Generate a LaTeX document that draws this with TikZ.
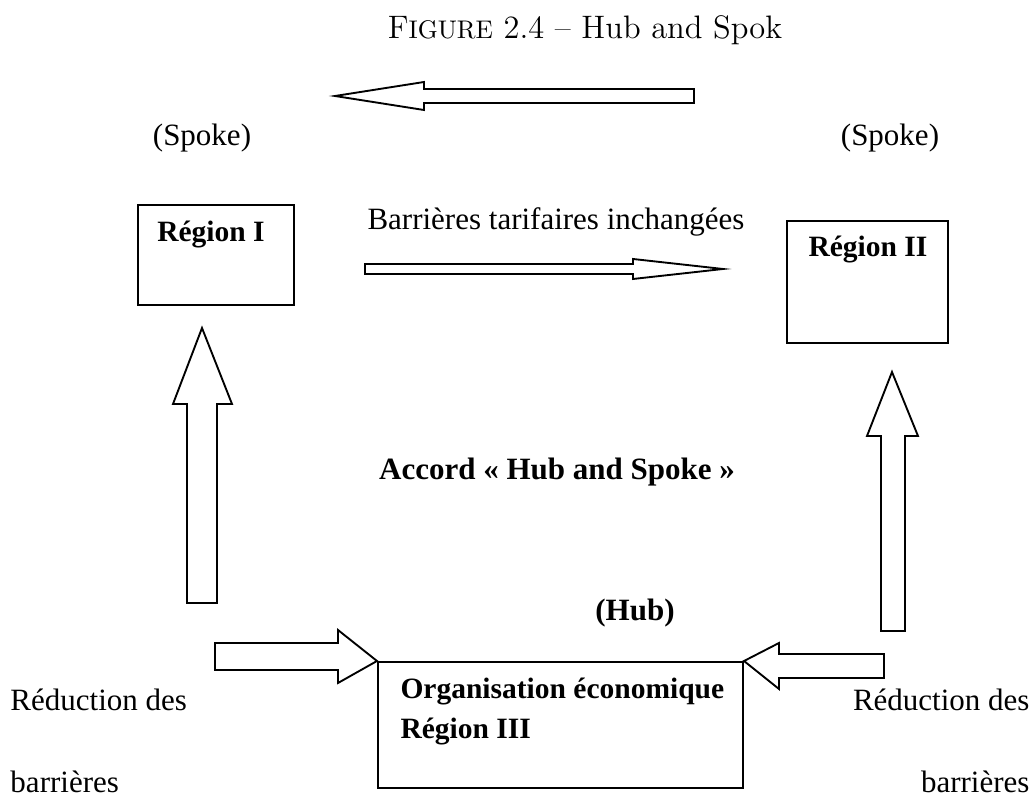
\documentclass[tikz,border=0pt]{standalone}
\usepackage{fontspec}
\setmainfont{Liberation Serif}
\newfontfamily\lmfont{Latin Modern Roman}
\usetikzlibrary{positioning}
\tikzset
{
    regionbox/.style = {rectangle, draw=black, line width=0.8pt, inner sep=0pt},
    blockarrow/.style = {draw=black, line width=0.75pt, fill=white, line join=miter},
    plaintext/.style = {inner sep=0pt, font=\fontsize{12.4}{15}\selectfont},
    boldtext/.style = {inner sep=0pt, font=\fontsize{11.8}{14}\selectfont\bfseries}
}
\newcommand\fakesc[1]{{\fontsize{10.2}{12}\selectfont #1}}

\begin{document}
\begin{tikzpicture}[x=0.4pt, y=-0.4pt]
\useasboundingbox (0,0) rectangle (1035,805);
\node [inner sep=0pt, font=\lmfont\fontsize{13}{16}\selectfont] at (585,30) (caption) {F\fakesc{IGURE} 2.4 – Hub and Spok};
% boxes
\node [regionbox, minimum width=156*0.4pt, minimum height=100*0.4pt] at (216,255) (reg1) {};
\node [regionbox, minimum width=161*0.4pt, minimum height=122*0.4pt] at (867.5,282) (reg2) {};
\node [regionbox, minimum width=365*0.4pt, minimum height=126*0.4pt] at (560.5,725) (reg3) {};
\node [boldtext] at (211,235) (reg1text) {Région I};
\node [boldtext, anchor=west] at (808,250) (reg2text) {Région II};
\node [boldtext, anchor=west] at (400,692) (reg3top) {Organisation économique};
\node [boldtext, anchor=west] at (400,732) (reg3bot) {Région III};
% labels
\node [plaintext] at (202,138) (spoke1) {(Spoke)};
\node [plaintext] at (890,138) (spoke2) {(Spoke)};
\node [plaintext] at (556,222) (tarif) {Barrières tarifaires inchangées};
\node [boldtext, font=\fontsize{12.4}{15}\selectfont\bfseries] at (557,472) (accord) {Accord « Hub and Spoke »};
\node [boldtext, font=\fontsize{12.4}{15}\selectfont\bfseries] at (635,613) (hub) {(Hub)};
\node [plaintext, anchor=west] at (10,700) (red1) {Réduction des};
\node [plaintext, anchor=west] at (10,782) (bar1) {barrières};
\node [plaintext, anchor=east] at (1030,700) (red2) {Réduction des};
\node [plaintext, anchor=east] at (1030,782) (bar2) {barrières};
% block arrows
\draw [blockarrow] (694,89) -- (424,89) -- (424,82) -- (335,96) -- (424,110) -- (424,103) -- (694,103) -- cycle;
\draw [blockarrow] (365,264) -- (633,264) -- (633,259) -- (723,269) -- (633,279) -- (633,274) -- (365,274) -- cycle;
\draw [blockarrow] (187,603) -- (187,404) -- (173,404) -- (202,328) -- (232,404) -- (217,404) -- (217,603) -- cycle;
\draw [blockarrow] (881,631) -- (881,436) -- (867,436) -- (892,372) -- (918,436) -- (905,436) -- (905,631) -- cycle;
\draw [blockarrow] (215,643) -- (338,643) -- (338,630) -- (reg3.north west) -- (338,683) -- (338,670) -- (215,670) -- cycle;
\draw [blockarrow] (884,654) -- (779,654) -- (779,643) -- (reg3.north east) -- (779,689) -- (779,678) -- (884,678) -- cycle;
\end{tikzpicture}
\end{document}
